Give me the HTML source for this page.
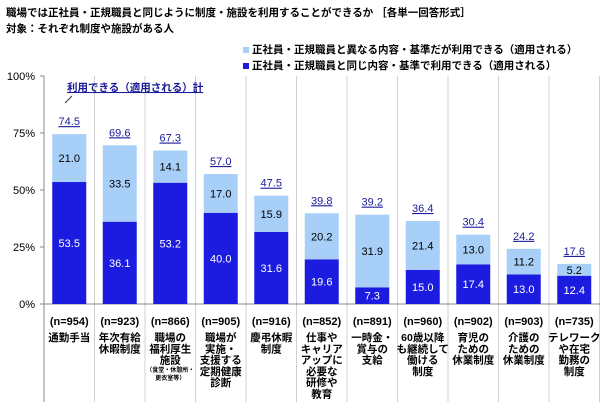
<!DOCTYPE html>
<html><head><meta charset="utf-8">
<style>
body{margin:0;background:#fff;font-family:"Liberation Sans","Noto Sans CJK JP",sans-serif;}
#wrap{position:relative;width:600px;height:402px;overflow:hidden;}
.t{position:absolute;font-weight:bold;font-size:10.5px;color:#000;white-space:nowrap;}
</style></head><body>
<div id="wrap">
<div class="t" style="left:6px;top:5px">職場では正社員・正規職員と同じように制度・施設を利用することができるか ［各単一回答形式］</div>
<div class="t" style="left:6px;top:21px">対象：それぞれ制度や施設がある人</div>
<div class="t" style="left:243px;top:42px"><span style="display:inline-block;width:6px;height:6px;background:#a8cff8;margin-right:3px"></span>正社員・正規職員と異なる内容・基準だが利用できる（適用される）</div>
<div class="t" style="left:243px;top:58px"><span style="display:inline-block;width:6px;height:6px;background:#1c1ce0;margin-right:3px"></span>正社員・正規職員と同じ内容・基準で利用できる（適用される）</div>
<svg id="svg" width="600" height="402" style="position:absolute;left:0;top:0"></svg>
</div>
<script>
const categories=["通勤手当","年次有給\n休暇制度","職場の\n福利厚生\n施設","職場が\n実施・\n支援する\n定期健康\n診断","慶弔休暇\n制度","仕事や\nキャリア\nアップに\n必要な\n研修や\n教育","一時金・\n賞与の\n支給","60歳以降\nも継続して\n働ける\n制度","育児の\nための\n休業制度","介護の\nための\n休業制度","テレワーク\nや在宅\n勤務の\n制度"];
const nLabels=["954","923","866","905","916","852","891","960","902","903","735"];
const sameValues=[53.5,36.1,53.2,40.0,31.6,19.6,7.3,15.0,17.4,13.0,12.4];
const diffValues=[21.0,33.5,14.1,17.0,15.9,20.2,31.9,21.4,13.0,11.2,5.2];
const totalValues=[74.5,69.6,67.3,57.0,47.5,39.8,39.2,36.4,30.4,24.2,17.6];
const yTicks=[0,25,50,75,100];
const svg=document.getElementById('svg');const NS="http://www.w3.org/2000/svg";
const X0=44,CW=50.5,BW=34,Y0=304,Y100=76;
const y=v=>Y0-(Y0-Y100)*v/100;
const cx=i=>X0+CW*i+CW/2;
function mk(tag,attrs,txt){const e=document.createElementNS(NS,tag);for(const k in attrs)e.setAttribute(k,attrs[k]);if(txt!=null)e.textContent=txt;svg.appendChild(e);return e;}
const F='"Liberation Sans","Noto Sans CJK JP",sans-serif';
for(let i=0;i<=11;i++){const l=mk('line',{x1:X0+CW*i,x2:X0+CW*i,y1:Y100,y2:402,stroke:i==0?'#888':'#d0d0d0','stroke-width':1});

}
mk('line',{x1:X0,x2:600,y1:Y0,y2:Y0,stroke:'#888'});
yTicks.forEach(t=>{const e=mk('text',{x:35,y:y(t)+4,'text-anchor':'end','font-size':11,'font-family':F},t+'%');


mk('line',{x1:X0-4,x2:X0,y1:y(t),y2:y(t),stroke:'#888'});});
categories.forEach((c,i)=>{
const x=cx(i)-BW/2;
const r1=mk('rect',{x:x,y:y(sameValues[i]),width:BW,height:Y0-y(sameValues[i]),fill:'#1c1ce0'});


const r2=mk('rect',{x:x,y:y(sameValues[i]+diffValues[i]),width:BW,height:y(sameValues[i])-y(sameValues[i]+diffValues[i]),fill:'#a8cff8'});


mk('text',{x:cx(i),y:(y(sameValues[i])+Y0)/2+4,'text-anchor':'middle','font-size':11,fill:'#fff','font-family':F},sameValues[i].toFixed(1));
mk('text',{x:cx(i),y:(y(sameValues[i])+y(sameValues[i]+diffValues[i]))/2+4,'text-anchor':'middle','font-size':11,fill:'#000','font-family':F},diffValues[i].toFixed(1));
const tt=mk('text',{x:cx(i),y:y(totalValues[i])-9,'text-anchor':'middle','font-size':11,fill:'#1a1a9a','text-decoration':'underline','font-family':F},totalValues[i].toFixed(1));


const n=mk('text',{x:cx(i),y:325,'text-anchor':'middle','font-size':11,'font-weight':'bold','font-family':F},'(n='+nLabels[i]+')');


c.split('\n').forEach((ln,k)=>{const e=mk('text',{x:cx(i),y:341+k*11.3,'text-anchor':'middle','font-size':10.5,'font-weight':'bold','font-family':F},ln);

});
if(i==2){mk('text',{x:cx(i),y:372,'text-anchor':'middle','font-size':6,'font-weight':'bold','font-family':F},'（食堂・休憩所・');mk('text',{x:cx(i),y:380,'text-anchor':'middle','font-size':6,'font-weight':'bold','font-family':F},'更衣室等）');}
});
const a=mk('text',{x:67,y:91,'font-size':10.5,'font-weight':'bold',fill:'#1a1a9a','text-decoration':'underline','font-family':F},'利用できる（適用される）計');


mk('line',{x1:72,y1:96,x2:65,y2:103,stroke:'#333'});
</script>
</body></html>
